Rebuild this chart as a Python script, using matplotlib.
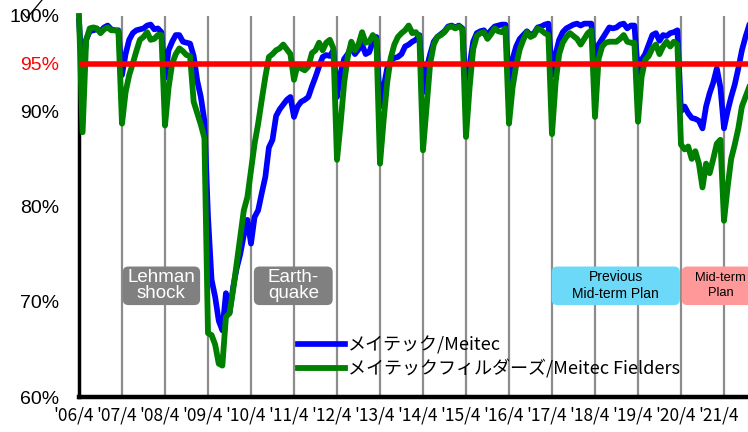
import numpy as np
import matplotlib
matplotlib.use('Agg')
import matplotlib.pyplot as plt
import matplotlib.transforms as mtransforms
from matplotlib.patches import FancyBboxPatch
from matplotlib.lines import Line2D

plt.rcParams['font.family'] = ['Noto Sans CJK JP', 'DejaVu Sans']

# 月次稼働率（%）、2006年4月から
meitec = np.array([
    99.5, 93.5, 97.5, 98.4, 98.5, 98.6, 98.4, 98.8, 99.0, 98.6, 98.5, 98.5,   # '06
    93.8, 96.0, 97.5, 98.2, 98.5, 98.6, 98.7, 99.0, 99.1, 98.6, 98.7, 98.3,   # '07
    93.5, 96.4, 97.3, 98.0, 98.0, 97.3, 97.2, 97.1, 95.8, 93.2, 91.5, 89.0,   # '08
    79.0, 72.3, 70.5, 68.0, 67.0, 70.9, 68.8, 71.5, 73.5, 75.0, 77.0, 78.6,   # '09
    76.1, 78.9, 79.6, 81.4, 83.1, 86.2, 87.0, 89.5, 90.2, 90.7, 91.2, 91.5,   # '10
    89.4, 90.5, 91.0, 91.2, 91.5, 92.6, 93.6, 94.7, 95.7, 95.9, 95.8, 96.4,   # '11
    91.5, 94.0, 95.5, 96.0, 96.8, 96.0, 96.5, 97.0, 96.0, 96.2, 97.3, 97.8,   # '12
    90.5, 92.5, 94.5, 95.3, 95.6, 95.7, 96.0, 96.8, 97.0, 97.3, 97.5, 98.0,   # '13
    92.0, 94.5, 96.0, 97.3, 97.8, 98.1, 98.4, 98.9, 99.0, 98.8, 99.0, 98.7,   # '14
    91.5, 94.8, 97.3, 98.2, 98.4, 98.5, 98.0, 98.5, 98.9, 99.0, 99.1, 99.1,   # '15
    92.5, 95.5, 96.8, 97.6, 98.0, 98.4, 98.0, 98.2, 98.8, 98.9, 99.1, 99.2,   # '16
    93.8, 96.0, 97.5, 98.3, 98.7, 98.9, 99.1, 99.2, 99.0, 99.2, 99.2, 99.2,   # '17
    94.0, 97.0, 97.6, 98.2, 98.8, 98.7, 98.8, 99.1, 99.2, 98.7, 99.0, 99.0,   # '18
    94.0, 95.4, 96.0, 97.0, 98.0, 98.2, 97.4, 98.0, 97.9, 98.2, 98.3, 98.5,   # '19
    90.0, 90.5, 89.8, 89.3, 89.2, 89.0, 88.2, 90.5, 91.9, 93.0, 94.5, 92.5,   # '20
    88.2, 90.0, 91.5, 92.8, 94.5, 96.4, 97.8, 99.0,                           # '21
])
fielders = np.array([
    100.0, 87.8, 97.5, 98.7, 98.8, 98.7, 98.2, 98.6, 98.8, 98.5, 98.5, 98.4,
    88.7, 92.0, 93.8, 95.0, 96.3, 97.5, 97.8, 98.3, 97.5, 97.6, 98.0, 98.0,
    88.5, 92.5, 95.0, 96.0, 96.6, 96.3, 95.9, 95.8, 91.0, 89.8, 88.6, 87.2,
    66.7, 66.5, 65.5, 63.5, 63.3, 68.4, 68.8, 71.2, 74.0, 76.8, 79.6, 81.0,
    83.8, 86.6, 88.7, 91.2, 93.6, 95.7, 96.0, 96.4, 96.6, 97.0, 96.5, 96.0,
    93.3, 94.9, 94.5, 94.3, 94.7, 96.1, 96.4, 97.2, 96.4, 97.2, 97.5, 96.6,
    84.9, 88.7, 93.0, 95.7, 97.3, 96.4, 97.0, 98.3, 97.2, 97.3, 98.0, 97.5,
    84.5, 89.0, 93.0, 95.6, 97.0, 97.8, 98.2, 98.5, 99.0, 98.2, 98.3, 97.8,
    85.9, 90.5, 95.0, 97.0, 97.8, 98.0, 98.3, 98.8, 98.9, 98.7, 98.9, 98.6,
    87.3, 92.5, 96.5, 97.9, 98.2, 98.3, 97.6, 98.1, 98.7, 98.4, 98.3, 98.7,
    88.7, 92.5, 94.8, 96.5, 97.5, 98.3, 97.8, 98.0, 98.7, 98.5, 98.2, 98.0,
    87.6, 93.0, 96.0, 97.2, 97.8, 98.2, 97.9, 97.6, 97.0, 97.6, 98.2, 98.5,
    89.4, 95.5, 96.8, 97.2, 97.3, 97.3, 97.3, 97.6, 98.0, 97.3, 97.2, 97.2,
    88.9, 93.6, 95.4, 95.8, 96.6, 97.0, 96.0, 96.8, 97.3, 96.8, 97.3, 97.0,
    86.5, 86.0, 86.3, 85.0, 85.8, 84.5, 82.0, 84.5, 83.5, 85.0, 86.6, 87.0,
    78.5, 82.0, 85.0, 86.5, 88.2, 90.5, 91.5, 92.5,
])
months = np.arange(len(meitec))

year_labels = ["'%02d/4" % y for y in range(6, 22)]
ytick_vals = [60, 70, 80, 90, 95, 100]
ytick_labels = ['60%', '70%', '80%', '90%', '95%', '100%']
target = 95

# 注記ボックス: (左, 右, 下, 上, 文字, 背景色, 文字色, サイズ, 行間)
notes = [
    (12.2, 33.8, 69.65, 73.7, 'Lehman\nshock', '#808080', 'white', 13.5, 0.95),
    (48.8, 70.8, 69.65, 73.7, 'Earth-\nquake', '#808080', 'white', 13.5, 0.95),
    (131.9, 167.7, 69.65, 73.7, 'Previous\nMid-term Plan', '#6bd9f7', 'black', 10, 1.25),
    (168.2, 190.0, 69.65, 73.7, 'Mid-term\nPlan', '#ff9999', 'black', 9.3, 1.3),
]

fig = plt.figure(figsize=(7.48, 4.32), dpi=100)
ax = fig.add_axes([79 / 748, 35 / 432, 669 / 748, 381 / 432])

ax.plot(months, meitec, color='#0000ff', lw=4.1, label='メイテック/Meitec',
        zorder=3, clip_on=False, solid_joinstyle='round')
ax.plot(months, fielders, color='#008000', lw=4.2,
        label='メイテックフィルダーズ/Meitec Fielders',
        zorder=4, clip_on=False, solid_joinstyle='round')
ax.axhline(target, color='#ff0000', lw=4, zorder=5)

ax.set_xlim(0, 186.7)
ax.set_ylim(60, 100)
ax.set_xticks(np.arange(0, 12 * len(year_labels), 12))
ax.set_xticklabels(year_labels)
ax.set_yticks(ytick_vals)
ax.set_yticklabels(ytick_labels, family='Liberation Sans')
for t in ax.get_yticklabels():
    if t.get_text() == '95%':
        t.set_color('#ff0000')
ax.tick_params(axis='x', length=0, pad=7, labelsize=12.5)
ax.tick_params(axis='y', length=0, pad=14, labelsize=14)
ax.grid(axis='x', color='#8c8c8c', lw=1.6, zorder=1)

# 年ラベルを少し左へずらす
shift = mtransforms.ScaledTranslation(-5 / 100, 0, fig.dpi_scale_trans)
for t in ax.get_xticklabels():
    t.set_transform(t.get_transform() + shift)

for s in ['top', 'right']:
    ax.spines[s].set_visible(False)
ax.spines['left'].set_linewidth(2.5)
ax.spines['bottom'].set_linewidth(3.2)
ax.spines['bottom'].set_zorder(6)

# 角丸ボックスのアスペクト補正
asp = (669 / 186.7) / (381 / 40)
for x0, x1, y0, y1, txt, fc, tc, fs, ls in notes:
    box = FancyBboxPatch((x0, y0), x1 - x0, y1 - y0,
                         boxstyle='round,pad=0,rounding_size=1.6',
                         mutation_aspect=asp, fc=fc, ec='none', zorder=6, clip_on=False)
    ax.add_patch(box)
    ax.text((x0 + x1) / 2, (y0 + y1) / 2, txt, ha='center', va='center', color=tc,
            fontsize=fs, family='Liberation Sans', linespacing=ls, zorder=7)

ax.legend(loc='upper left', bbox_to_anchor=(298 / 748, 1 - 336 / 432),
          bbox_transform=fig.transFigure, frameon=False, fontsize=13,
          handlelength=2.6, handletextpad=0.15, borderpad=0, borderaxespad=0,
          labelspacing=0.3)

# 軸の省略記号
fig.add_artist(Line2D([22 / 748, 27 / 748, 42 / 748], [1 - 12 / 432, 1 - 18 / 432, 1.0],
                      color='black', lw=0.9, transform=fig.transFigure))

fig.savefig('out.png', dpi=100)
